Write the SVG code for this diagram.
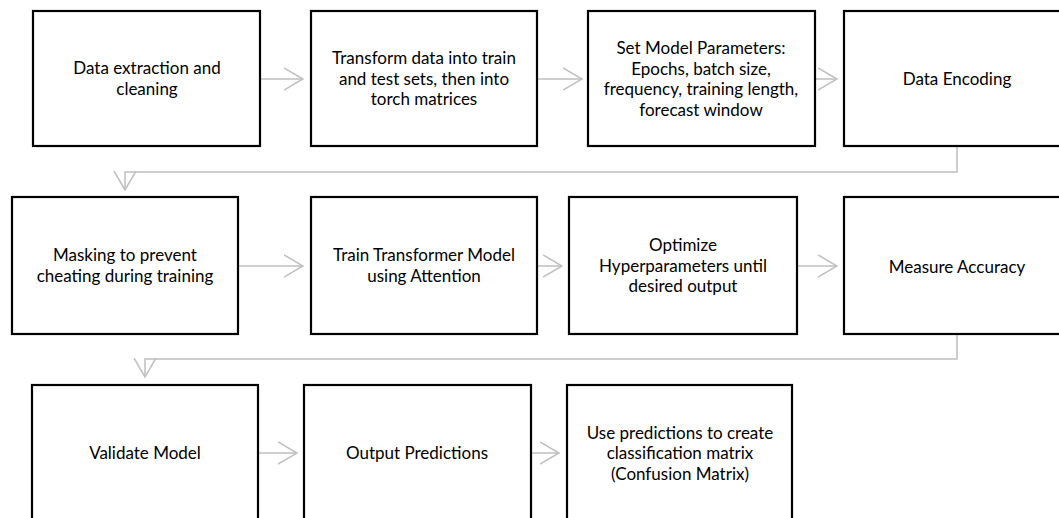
<svg xmlns="http://www.w3.org/2000/svg" width="1059" height="518" viewBox="0 0 1059 518">
<style>
.box{fill:#fff;stroke:#000;stroke-width:2.2}
.lbl{font-family:Lato,"Liberation Sans",sans-serif;font-size:17px;fill:#000;text-anchor:middle}
.con{fill:none;stroke:#bfbfbf;stroke-width:1.5}
</style>
<defs>
<marker id="arr" viewBox="0 0 20 24" refX="19" refY="12" markerWidth="20" markerHeight="24" markerUnits="userSpaceOnUse" orient="auto">
<path d="M0,1 L19,12 L0,23" fill="none" stroke="#bfbfbf" stroke-width="1.5"/>
</marker>
</defs>
<rect width="1059" height="518" fill="#fff"/>
<g id="connectors">
<path class="con" d="M260,79 H303" marker-end="url(#arr)"/>
<path class="con" d="M537,79 H582" marker-end="url(#arr)"/>
<path class="con" d="M815,79 H837" marker-end="url(#arr)"/>
<path class="con" d="M957,146 V172 H125 V190" marker-end="url(#arr)"/>
<path class="con" d="M238,266 H303" marker-end="url(#arr)"/>
<path class="con" d="M537,266 H562" marker-end="url(#arr)"/>
<path class="con" d="M797,266 H837" marker-end="url(#arr)"/>
<path class="con" d="M957,334 V359 H145 V377" marker-end="url(#arr)"/>
<path class="con" d="M258,453 H297" marker-end="url(#arr)"/>
<path class="con" d="M531,453 H559" marker-end="url(#arr)"/>
</g>
<g id="n1"><rect class="box" x="33" y="11" width="227" height="135"/>
<text class="lbl" x="147" y="74">Data extraction and</text><text class="lbl" x="147" y="95">cleaning</text></g>
<g id="n2"><rect class="box" x="311" y="11" width="226" height="135"/>
<text class="lbl" x="424" y="64">Transform data into train</text><text class="lbl" x="424" y="84.5">and test sets, then into</text><text class="lbl" x="424" y="105">torch matrices</text></g>
<g id="n3"><rect class="box" x="588" y="11" width="227" height="135"/>
<text class="lbl" x="701" y="54">Set Model Parameters:</text><text class="lbl" x="701" y="74.5">Epochs, batch size,</text><text class="lbl" x="701" y="95">frequency, training length,</text><text class="lbl" x="701" y="115.5">forecast window</text></g>
<g id="n4"><rect class="box" x="844" y="11" width="227" height="135"/>
<text class="lbl" x="957" y="85">Data Encoding</text></g>
<g id="n5"><rect class="box" x="12" y="197" width="226" height="137"/>
<text class="lbl" x="125" y="261">Masking to prevent</text><text class="lbl" x="125" y="282">cheating during training</text></g>
<g id="n6"><rect class="box" x="311" y="197" width="226" height="137"/>
<text class="lbl" x="424" y="261">Train Transformer Model</text><text class="lbl" x="424" y="282">using Attention</text></g>
<g id="n7"><rect class="box" x="569" y="197" width="228" height="137"/>
<text class="lbl" x="683" y="251">Optimize</text><text class="lbl" x="683" y="271.5">Hyperparameters until</text><text class="lbl" x="683" y="292">desired output</text></g>
<g id="n8"><rect class="box" x="844" y="197" width="227" height="137"/>
<text class="lbl" x="957" y="272.5">Measure Accuracy</text></g>
<g id="n9"><rect class="box" x="32" y="385" width="226" height="137"/>
<text class="lbl" x="145" y="459">Validate Model</text></g>
<g id="n10"><rect class="box" x="304" y="385" width="227" height="137"/>
<text class="lbl" x="417" y="459">Output Predictions</text></g>
<g id="n11"><rect class="box" x="567" y="385" width="225" height="137"/>
<text class="lbl" x="680" y="438.5">Use predictions to create</text><text class="lbl" x="680" y="459">classification matrix</text><text class="lbl" x="680" y="479.5">(Confusion Matrix)</text></g>
</svg>
